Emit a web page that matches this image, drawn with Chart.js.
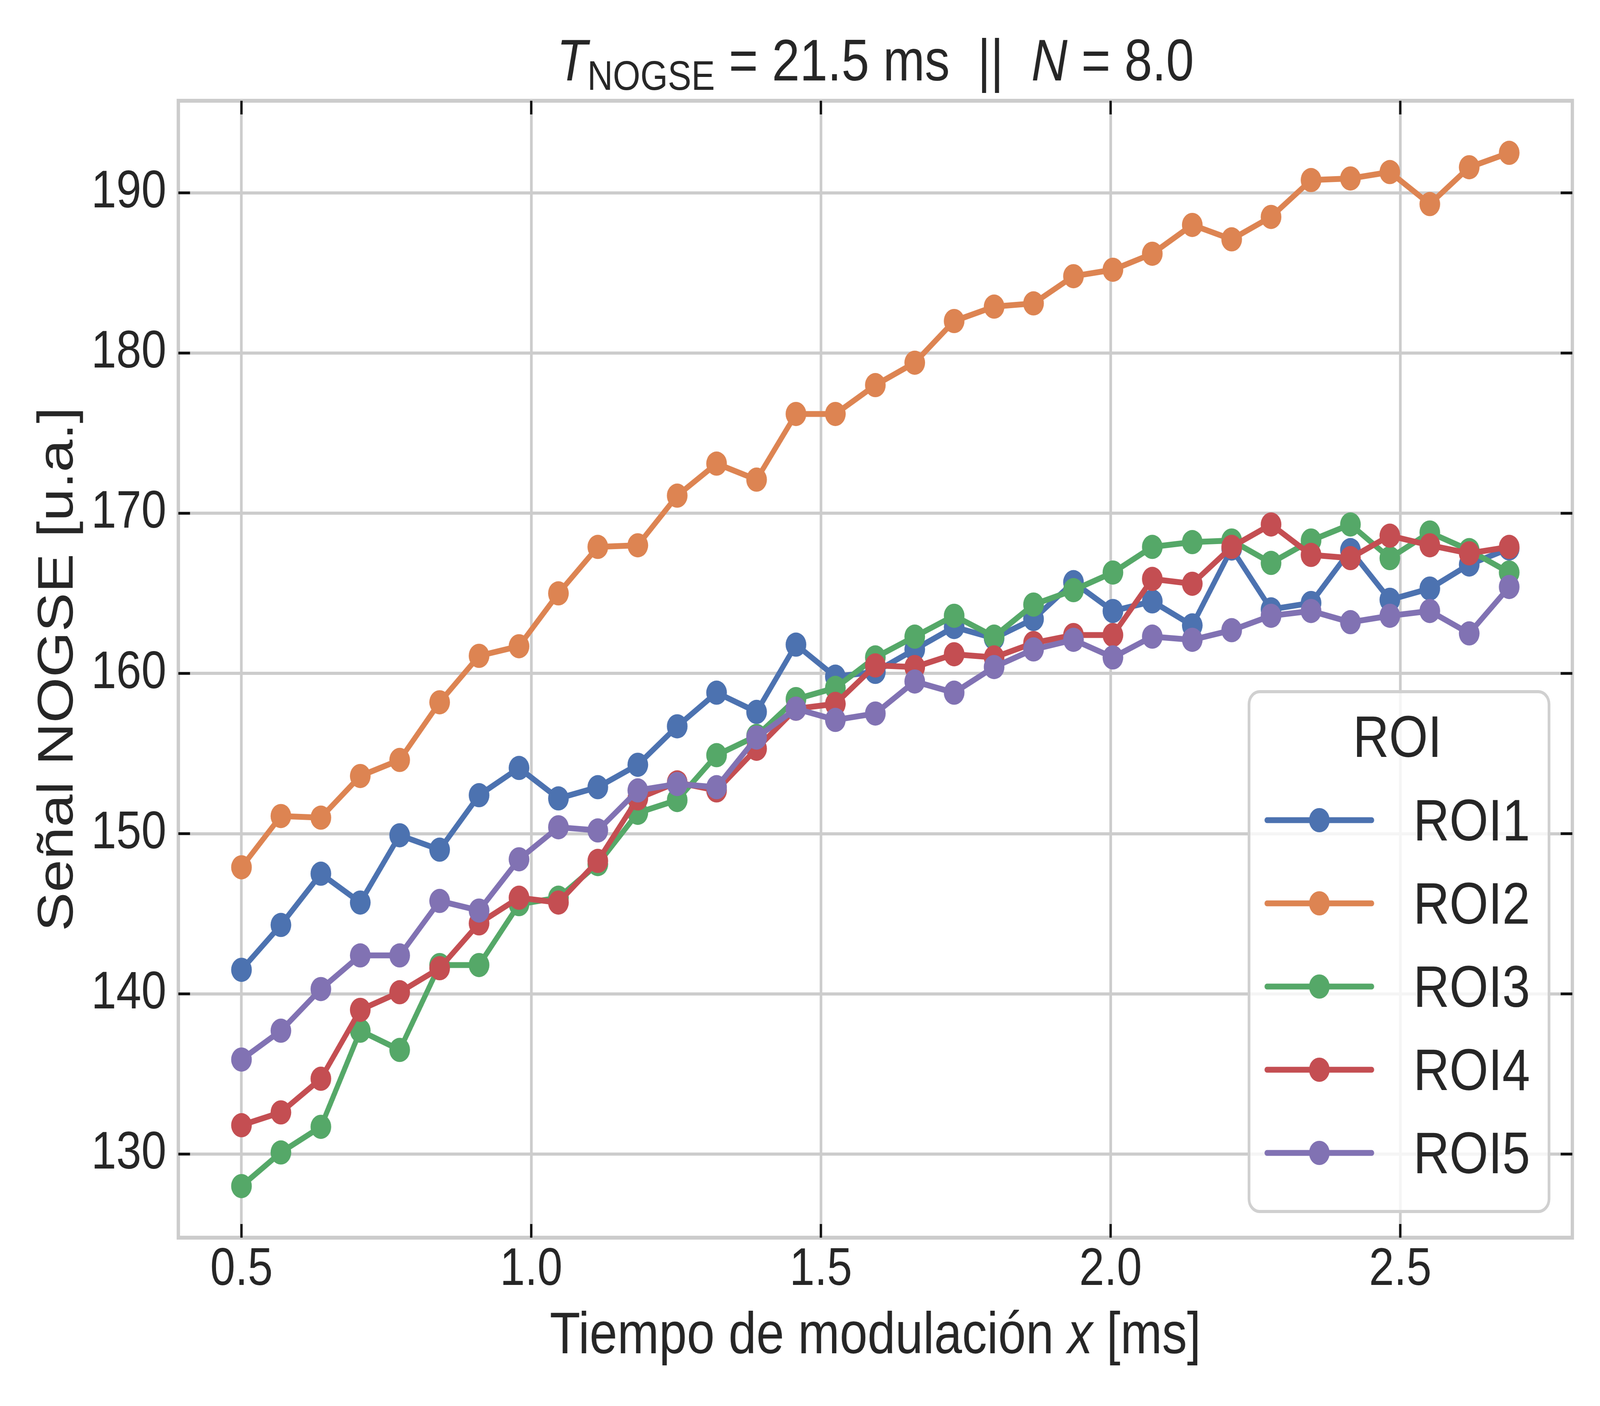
<!DOCTYPE html>
<html>
<head>
<meta charset="utf-8">
<script src="https://cdn.jsdelivr.net/npm/chart.js@4.4.1/dist/chart.umd.min.js"></script>
<style>
  html, body { margin: 0; padding: 0; background: #fff; overflow: hidden; }
  canvas { display: block; }
</style>
</head>
<body>
<!-- drawn as a 4800x3600 figure, shown stretched over the whole window -->
<canvas id="chart" width="4800" height="3600" style="width:100vw;height:100vh"></canvas>
<script>
// modulation times [ms]
const xValues = [0.500, 0.568, 0.637, 0.705, 0.773, 0.842, 0.910, 0.979, 1.047, 1.115, 1.184,
                 1.252, 1.320, 1.389, 1.457, 1.525, 1.594, 1.662, 1.730, 1.799, 1.867, 1.936,
                 2.004, 2.072, 2.141, 2.209, 2.277, 2.346, 2.414, 2.482, 2.551, 2.619, 2.688];

const roi1 = [141.5, 144.3, 147.5, 145.7, 149.9, 149.0, 152.4, 154.1, 152.2, 152.9, 154.3,
              156.7, 158.8, 157.6, 161.8, 159.8, 160.1, 161.5, 162.9, 162.2, 163.4, 165.7,
              163.9, 164.5, 163.0, 167.8, 164.0, 164.4, 167.7, 164.6, 165.3, 166.8, 167.8];
const roi2 = [147.9, 151.1, 151.0, 153.6, 154.6, 158.2, 161.1, 161.7, 165.0, 167.9, 168.0,
              171.1, 173.1, 172.1, 176.2, 176.2, 178.0, 179.4, 182.0, 182.9, 183.1, 184.8,
              185.2, 186.2, 188.0, 187.1, 188.5, 190.8, 190.9, 191.3, 189.3, 191.6, 192.5];
const roi3 = [128.0, 130.1, 131.7, 137.7, 136.5, 141.8, 141.8, 145.6, 146.0, 148.1, 151.3,
              152.1, 154.9, 156.1, 158.4, 159.1, 161.0, 162.3, 163.6, 162.3, 164.3, 165.2,
              166.3, 167.9, 168.2, 168.3, 166.9, 168.3, 169.3, 167.2, 168.8, 167.7, 166.3];
const roi4 = [131.8, 132.6, 134.7, 139.0, 140.1, 141.6, 144.4, 146.0, 145.7, 148.3, 152.2,
              153.2, 152.7, 155.3, 157.8, 158.1, 160.5, 160.4, 161.2, 161.0, 161.9, 162.4,
              162.4, 165.9, 165.6, 167.9, 169.3, 167.4, 167.2, 168.6, 168.0, 167.5, 167.9];
const roi5 = [135.9, 137.7, 140.3, 142.4, 142.4, 145.8, 145.2, 148.4, 150.4, 150.2, 152.7,
              153.1, 152.9, 156.0, 157.8, 157.1, 157.5, 159.5, 158.8, 160.4, 161.5, 162.1,
              161.0, 162.3, 162.1, 162.7, 163.6, 163.9, 163.2, 163.6, 163.9, 162.5, 165.4];

const seriesNames = ['ROI1', 'ROI2', 'ROI3', 'ROI4', 'ROI5'];
const seriesValues = [roi1, roi2, roi3, roi4, roi5];
const seriesColors = ['#4c72b0', '#dd8452', '#55a868', '#c44e52', '#8172b3'];

const xTicks = [0.5, 1.0, 1.5, 2.0, 2.5];
const yTicks = [130, 140, 150, 160, 170, 180, 190];

const FONT = "'Liberation Sans', Arial, sans-serif";
const TEXT = '#262626';
const GRID = '#cccccc';

// draws a line of text made of pieces with different styles, centred on cx
function drawRich(ctx, parts, cx, baseline) {
    const fontOf = p => (p.italic ? 'italic ' : '') + p.size + 'px ' + FONT;
    const widths = parts.map(p => {
        ctx.font = fontOf(p);
        return ctx.measureText(p.text).width;
    });
    let x = cx - widths.reduce((a, b) => a + b, 0) / 2;
    ctx.save();
    ctx.fillStyle = TEXT;
    ctx.textAlign = 'left';
    ctx.textBaseline = 'alphabetic';
    parts.forEach((p, i) => {
        ctx.font = fontOf(p);
        ctx.fillText(p.text, x, baseline + (p.dy || 0));
        x += widths[i];
    });
    ctx.restore();
}

const background = {
    id: 'background',
    beforeDraw(chart) {
        const ctx = chart.ctx;
        ctx.save();
        ctx.fillStyle = '#fff';
        ctx.fillRect(0, 0, chart.width, chart.height);
        ctx.restore();
    }
};

// spines, inward ticks on every side, title and x label
const frame = {
    id: 'frame',
    afterDatasetsDraw(chart) {
        const ctx = chart.ctx;
        const a = chart.chartArea;
        const sx = chart.scales.x, sy = chart.scales.y;
        ctx.save();
        ctx.strokeStyle = GRID;
        ctx.lineWidth = 10;
        ctx.strokeRect(a.left, a.top, a.right - a.left, a.bottom - a.top);

        ctx.strokeStyle = '#111';
        ctx.lineWidth = 7;
        ctx.beginPath();
        xTicks.forEach(v => {
            const px = sx.getPixelForValue(v);
            ctx.moveTo(px, a.bottom); ctx.lineTo(px, a.bottom - 35);
            ctx.moveTo(px, a.top); ctx.lineTo(px, a.top + 35);
        });
        yTicks.forEach(v => {
            const py = sy.getPixelForValue(v);
            ctx.moveTo(a.left, py); ctx.lineTo(a.left + 35, py);
            ctx.moveTo(a.right, py); ctx.lineTo(a.right - 35, py);
        });
        ctx.stroke();
        ctx.restore();

        const cx = (a.left + a.right) / 2;
        drawRich(ctx, [
            { text: 'T', italic: true, size: 150 },
            { text: 'NOGSE', size: 106, dy: 24 },
            { text: ' = 21.5 ms  ||  ', size: 150 },
            { text: 'N', italic: true, size: 150 },
            { text: ' = 8.0', size: 150 }
        ], cx, 206);
        drawRich(ctx, [
            { text: 'Tiempo de modulación ', size: 150 },
            { text: 'x', italic: true, size: 150 },
            { text: ' [ms]', size: 150 }
        ], cx, 3465);
    }
};

// legend box in the lower right corner, with title
const roiLegend = {
    id: 'roiLegend',
    afterDraw(chart) {
        const ctx = chart.ctx;
        const a = chart.chartArea;
        const right = a.right - 70, bottom = a.bottom - 67;
        const left = right - 900, top = bottom - 1331;
        ctx.save();
        ctx.beginPath();
        ctx.roundRect(left, top, right - left, bottom - top, 32);
        ctx.fillStyle = 'rgba(255,255,255,0.8)';
        ctx.fill();
        ctx.strokeStyle = '#d0d0d0';
        ctx.lineWidth = 8;
        ctx.stroke();

        ctx.fillStyle = TEXT;
        ctx.font = '150px ' + FONT;
        ctx.textAlign = 'center';
        ctx.textBaseline = 'alphabetic';
        ctx.fillText('ROI', left + 445, top + 167);

        chart.data.datasets.forEach((ds, i) => {
            const y = top + 329 + 213 * i;
            ctx.strokeStyle = ds.borderColor;
            ctx.lineWidth = 15;
            ctx.lineCap = 'round';
            ctx.beginPath();
            ctx.moveTo(left + 54, y);
            ctx.lineTo(left + 368, y);
            ctx.stroke();
            ctx.fillStyle = ds.borderColor;
            ctx.beginPath();
            ctx.arc(left + 211, y, 31, 0, Math.PI * 2);
            ctx.fill();
            ctx.fillStyle = TEXT;
            ctx.textAlign = 'left';
            ctx.fillText(ds.label, left + 493, y + 52);
        });
        ctx.restore();
    }
};

const datasets = seriesNames.map((name, i) => ({
    label: name,
    data: xValues.map((x, j) => ({ x: x, y: seriesValues[i][j] })),
    borderColor: seriesColors[i],
    backgroundColor: seriesColors[i],
    borderWidth: 15,
    borderJoinStyle: 'round',
    pointRadius: 31,
    pointBorderWidth: 0,
    pointBackgroundColor: seriesColors[i],
    tension: 0,
    order: seriesNames.length - 1 - i
}));

new Chart(document.getElementById('chart').getContext('2d'), {
    type: 'line',
    data: { datasets: datasets },
    plugins: [background, frame, roiLegend],
    options: {
        responsive: false,
        devicePixelRatio: 1,
        animation: false,
        layout: { padding: { top: 258, right: 83, left: 0, bottom: 0 } },
        plugins: {
            legend: { display: false },
            tooltip: { enabled: false },
            title: { display: false }
        },
        scales: {
            x: {
                type: 'linear',
                min: 0.391,
                max: 2.797,
                afterBuildTicks: s => { s.ticks = xTicks.map(v => ({ value: v })); },
                afterFit: s => { s.height = 431; },
                grid: { color: GRID, lineWidth: 8, drawTicks: false },
                border: { display: false },
                ticks: {
                    padding: 3,
                    color: TEXT,
                    font: { family: FONT, size: 135 },
                    maxRotation: 0,
                    callback: v => v.toFixed(1)
                }
            },
            y: {
                type: 'linear',
                min: 124.78,
                max: 195.75,
                afterBuildTicks: s => { s.ticks = yTicks.map(v => ({ value: v })); },
                afterFit: s => { s.width = 535; },
                grid: { color: GRID, lineWidth: 8, drawTicks: false },
                border: { display: false },
                ticks: {
                    padding: 36,
                    color: TEXT,
                    font: { family: FONT, size: 135 },
                    callback: v => String(v)
                },
                title: {
                    display: true,
                    text: 'Señal NOGSE [u.a.]',
                    color: TEXT,
                    font: { family: FONT, size: 150, lineHeight: 1.2 },
                    padding: { top: 87, bottom: 0 }
                }
            }
        }
    }
});
</script>
</body>
</html>
